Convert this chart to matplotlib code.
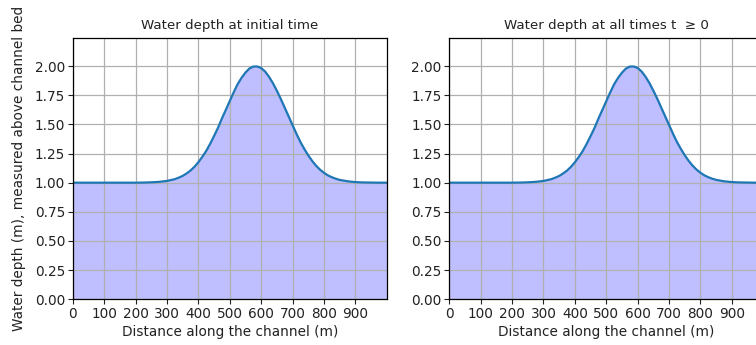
import numpy as np
import matplotlib
matplotlib.use("Agg")
import matplotlib.pyplot as plt

# water depth (m)
distance = [0, 25, 50, 75, 100, 125, 150, 175, 200, 225, 250, 275, 300, 325,
            337.5, 350, 362.5, 375, 387.5, 400, 412.5, 425, 437.5, 450, 462.5,
            475, 487.5, 500, 512.5, 525, 537.5, 550, 562.5, 575, 587.5, 600,
            612.5, 625, 637.5, 650, 662.5, 675, 687.5, 700, 712.5, 725, 737.5,
            750, 762.5, 775, 787.5, 800, 812.5, 825, 837.5, 850, 875, 900, 925,
            950, 975, 1000]
depth = [1.0, 1.0, 1.0, 1.0, 1.0, 1.0, 1.0, 1.0, 1.0, 1.001, 1.003, 1.007,
         1.015, 1.030, 1.043, 1.058, 1.079, 1.104, 1.136, 1.175, 1.221, 1.272,
         1.333, 1.40, 1.47, 1.55, 1.625, 1.70, 1.775, 1.845, 1.90, 1.945,
         1.98, 1.997, 1.998, 1.985, 1.955, 1.91, 1.855, 1.79, 1.72, 1.645,
         1.57, 1.495, 1.42, 1.35, 1.29, 1.235, 1.187, 1.146, 1.112, 1.085,
         1.063, 1.047, 1.034, 1.024, 1.012, 1.005, 1.002, 1.001, 1.0, 1.0]

titles = ["Water depth at initial time", "Water depth at all times t  \u2265 0"]
x_ticks = list(range(0, 1000, 100))
y_ticks = [0.0, 0.25, 0.5, 0.75, 1.0, 1.25, 1.5, 1.75, 2.0]

fig = plt.figure(figsize=(7.56, 3.45), dpi=100)
axes = [fig.add_axes([0.0962, 0.133, 0.4153, 0.756]),
        fig.add_axes([0.5943, 0.133, 0.4153, 0.756])]

for ax, title in zip(axes, titles):
    ax.fill_between(distance, 0, depth, color=(0.75, 0.75, 1.0), zorder=1)
    ax.plot(distance, depth, color="#1f77b4", lw=1.6, zorder=3)
    ax.set_xlim(0, 1000)
    ax.set_ylim(0, 2.24)
    ax.set_xticks(x_ticks)
    ax.set_yticks(y_ticks)
    ax.set_yticklabels([f"{v:.2f}" for v in y_ticks])
    ax.tick_params(labelsize=9.8, length=3.5, pad=2, colors="#222222")
    ax.grid(True, color="#b0b0b0", lw=0.9, zorder=2)
    ax.set_axisbelow(False)
    ax.set_title(title, fontsize=9.6, color="#222222", pad=7)
    ax.set_xlabel("Distance along the channel (m)", fontsize=9.8,
                  color="#222222", labelpad=3)
    for s in ax.spines.values():
        s.set_linewidth(0.9)
        s.set_zorder(4)

axes[0].set_ylabel("Water depth (m), measured above channel bed",
                   fontsize=9.8, color="#222222", labelpad=6)

fig.savefig("out.png", dpi=100)
